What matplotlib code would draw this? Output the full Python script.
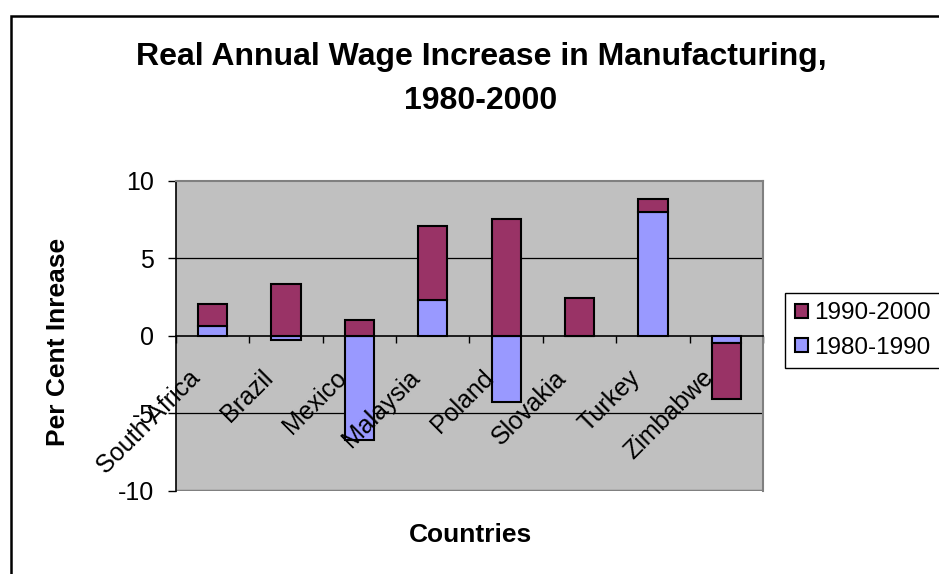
import matplotlib
matplotlib.use("Agg")
import matplotlib.pyplot as plt
import matplotlib.transforms as mtransforms
from matplotlib.patches import Rectangle
import numpy as np

plt.rcParams['font.family'] = ['Liberation Sans', 'DejaVu Sans']

countries = ['South Africa', 'Brazil', 'Mexico', 'Malaysia', 'Poland',
             'Slovakia', 'Turkey', 'Zimbabwe']
wage_80s = [0.65, -0.25, -6.75, 2.3, -4.25, 0.0, 8.0, -0.5]
wage_90s = [1.4, 3.35, 1.0, 4.8, 7.5, 2.45, 0.8, -3.6]
series_names = ['1980-1990', '1990-2000']

W, H = 939, 574
FS = 18
fig = plt.figure(figsize=(W / 100, H / 100), dpi=100)
ax = fig.add_axes([176 / W, 1 - 490.7 / H, 587 / W, 310 / H])
ax.set_facecolor('#C0C0C0')

x = np.arange(len(countries))
a = np.array(wage_80s)
b = np.array(wage_90s)
# excel-style stacking: second series sits on the first only when signs agree
bottom_b = np.where(np.sign(a) == np.sign(b), a, 0.0)

ax.bar(x, a, width=0.4, color='#9999FF', edgecolor='black', linewidth=1.5,
       label=series_names[0], zorder=3)
ax.bar(x, b, bottom=bottom_b, width=0.4, color='#993366', edgecolor='black',
       linewidth=1.5, label=series_names[1], zorder=3)

ax.set_xlim(-0.5, len(countries) - 0.5)
ax.set_ylim(-10, 10)
ax.set_yticks([-10, -5, 0, 5, 10])
ax.set_yticklabels(['-10', '-5', '0', '5', '10'])
for yv in [-5, 5]:
    ax.axhline(yv, color='black', lw=0.9, zorder=1)

for s in ['top', 'right']:
    ax.spines[s].set_color('#808080')
    ax.spines[s].set_linewidth(1.5)
ax.spines['left'].set_color('black')
ax.spines['left'].set_linewidth(1.2)
ax.spines['bottom'].set_position(('data', 0))
ax.spines['bottom'].set_color('black')
ax.spines['bottom'].set_linewidth(1.2)
ax.spines['bottom'].set_zorder(4)
ax.axhline(-10, color='#808080', lw=2.5, zorder=2)

ax.tick_params(axis='y', direction='out', length=6, width=1, labelsize=FS, pad=10)
ax.set_xticks(np.arange(len(countries) + 1) - 0.5)
ax.set_xticklabels([])
ax.tick_params(axis='x', direction='out', length=5, width=1)

# rotated category labels hang below the zero line
offs = mtransforms.offset_copy(ax.transData, fig=fig, x=-25, y=-30, units='dots')
for xi, name in zip(x, countries):
    ax.text(xi, 0, name, transform=offs, rotation=45, rotation_mode='anchor',
            ha='right', va='top', fontsize=FS, zorder=5)

fig.text(481 / W, 1 - 57 / H, 'Real Annual Wage Increase in Manufacturing,',
         ha='center', va='center', fontsize=23, fontweight='bold')
fig.text(481 / W, 1 - 101 / H, '1980-2000',
         ha='center', va='center', fontsize=23, fontweight='bold')
fig.text(58 / W, 1 - 342 / H, 'Per Cent Inrease', rotation=90,
         ha='center', va='center', fontsize=19, fontweight='bold')
fig.text(471 / W, 1 - 535 / H, 'Countries',
         ha='center', va='center', fontsize=19, fontweight='bold')

handles, labels = ax.get_legend_handles_labels()
leg = fig.legend(handles[::-1], labels[::-1], loc='upper left',
                 bbox_to_anchor=(785 / W, 1 - 376.7 / H, 0.2, 84 / H),
                 mode='expand', borderaxespad=0, fontsize=17.5,
                 handlelength=0.55, handleheight=0.55, handletextpad=0.25,
                 labelspacing=0.5, borderpad=0.4, fancybox=False,
                 edgecolor='black', framealpha=1)
leg.get_frame().set_linewidth(1)

fig.add_artist(Rectangle((11 / W, -0.1), 1.2, (H - 16) / H + 0.1,
                         transform=fig.transFigure, fill=False,
                         edgecolor='black', linewidth=1.8))

fig.savefig('out.png', dpi=100)
